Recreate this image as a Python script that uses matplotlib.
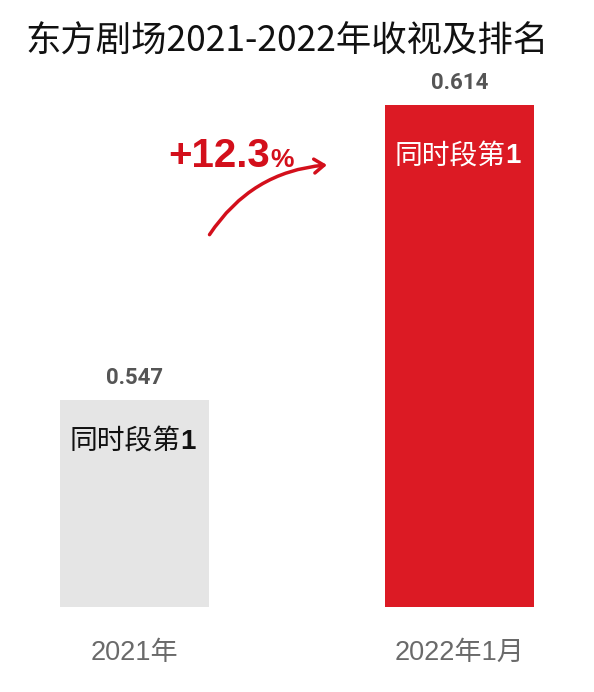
import matplotlib
matplotlib.use("Agg")
import matplotlib.pyplot as plt
from matplotlib.patches import FancyArrowPatch

categories = ["2021年", "2022年1月"]
values = [0.547, 0.614]
value_labels = ["0.547", "0.614"]
rank_text = "同时段第"
rank_num = "1"
growth_label = "+12.3"
title = "东方剧场2021-2022年收视及排名"

bar_colors = ["#E5E5E5", "#DC1A24"]
rank_colors = ["#111111", "#FFFFFF"]
red = "#D30F1B"

plt.rcParams['font.family'] = ['Noto Sans CJK SC', 'DejaVu Sans']

fig = plt.figure(figsize=(5.94, 6.92), dpi=100)
fig.patch.set_facecolor("white")
ax = fig.add_axes([0, 85/692, 1, 607/692])
ax.set_facecolor("none")
x = list(range(len(categories)))
ax.bar(x, values, width=0.458, color=bar_colors, zorder=2)
ax.set_xlim(-0.413, 1.412)
ax.set_ylim(0.5, 0.6378)
for s in ax.spines.values():
    s.set_visible(False)
ax.set_yticks([])
ax.set_xticks(x)
ax.set_xticklabels(categories, fontsize=19.5, color="#6A6A6A",
                   family=['Liberation Sans', 'Noto Sans CJK SC'])
ax.tick_params(axis='x', length=0, pad=24)

rank_offsets = [-30, -37]
split = 33
for i, v in enumerate(values):
    ax.annotate(value_labels[i], (x[i], v), xytext=(0, 16), textcoords='offset points',
                ha='center', va='center', fontsize=16, fontweight='bold', color="#555555",
                family=['Roboto', 'DejaVu Sans'])
    ax.annotate(rank_text, (x[i], v), xytext=(split, rank_offsets[i]), textcoords='offset points',
                ha='right', va='center', fontsize=20, color=rank_colors[i])
    ax.annotate(rank_num, (x[i], v), xytext=(split, rank_offsets[i]), textcoords='offset points',
                ha='left', va='center', fontsize=20, fontweight='bold', color=rank_colors[i],
                family=['Liberation Sans', 'DejaVu Sans'])

ax.text(0.416, 0.5999, growth_label, ha='right', va='baseline', fontsize=29,
        fontweight='bold', color=red, family=['Liberation Sans', 'DejaVu Sans'])
ax.text(0.418, 0.5999, "%", ha='left', va='baseline', fontsize=19,
        fontweight='bold', color=red, family=['Liberation Sans', 'DejaVu Sans'])

arr = FancyArrowPatch((0.226, 0.584), (0.60, 0.6004), connectionstyle="arc3,rad=-0.25",
                      arrowstyle="->,head_length=7,head_width=5", color=red, lw=2.5,
                      mutation_scale=1, zorder=3)
ax.add_patch(arr)

fig.text(25/594, 1 - 42/692, title, ha='left', va='center', fontsize=25.5, color="#111111")

fig.savefig("out.png", dpi=100, facecolor="white")
